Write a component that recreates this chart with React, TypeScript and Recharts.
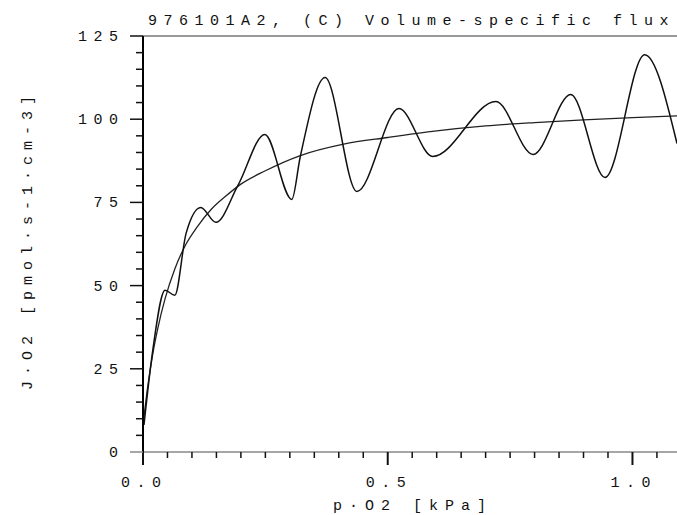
import { LineChart, Line, XAxis, YAxis, ReferenceLine } from "recharts";

// fitted hyperbolic curve
const fitP = [0, 0.01, 0.02, 0.03, 0.045, 0.065, 0.088, 0.11, 0.14, 0.17, 0.2, 0.25, 0.32, 0.41, 0.5, 0.6, 0.7, 0.8, 0.9, 1.0, 1.091];
const fitJ = [8, 20, 29.5, 37, 46, 55, 62.5, 67.5, 73, 77, 80.5, 84.5, 89, 92.5, 94.5, 96.5, 98, 99, 99.8, 100.5, 101];

// measured oscillating flux
const fluxP = [0.002, 0.02, 0.045, 0.065, 0.088, 0.118, 0.149, 0.194, 0.249, 0.304, 0.321, 0.372, 0.437, 0.523, 0.592, 0.721, 0.797, 0.874, 0.944, 1.025, 1.091];
const fluxJ = [8.1, 30.6, 48.6, 47.1, 65.7, 73.5, 69, 80.1, 95.4, 75.9, 88.5, 112.5, 78.3, 103.2, 88.8, 105.3, 89.4, 107.4, 82.5, 119.4, 92.7];

const xTicks = [0, 0.05, 0.1, 0.15, 0.2, 0.25, 0.3, 0.35, 0.4, 0.45, 0.5, 0.55, 0.6, 0.65, 0.7, 0.75, 0.8, 0.85, 0.9, 0.95, 1.0, 1.05];
const xLabelTicks = [0, 0.5, 1.0];
const yTicks = [0, 5, 10, 15, 20, 25, 30, 35, 40, 45, 50, 55, 60, 65, 70, 75, 80, 85, 90, 95, 100, 105, 110, 115, 120, 125];
const yLabelTicks = [0, 25, 50, 75, 100, 125];

const title = "976101A2, (C) Volume-specific flux";
const xTitle = "p·O2 [kPa]";
const yTitle = "J·O2 [pmol·s-1·cm-3]";

const fitData = fitP.map((p, i) => ({ p, j: fitJ[i] }));
const fluxData = fluxP.map((p, i) => ({ p, j: fluxJ[i] }));

const FONT = "'Liberation Mono', 'DejaVu Sans Mono', monospace";
const SP = 6.5;

function XTick({ x, y, payload }: any) {
  const v = payload.value;
  const major = xLabelTicks.some((t) => Math.abs(t - v) < 1e-6);
  return (
    <g>
      <line x1={x} x2={x} y1={y} y2={y + (major ? 13 : 6)} stroke="#111" strokeWidth={major ? 2 : 1.5} />
      {major && (
        <text x={x + SP / 2 - 2} y={y + 35} textAnchor="middle" fontFamily={FONT} fontSize={15} letterSpacing={SP} fill="#111">
          {v.toFixed(1)}
        </text>
      )}
    </g>
  );
}

function YTick({ x, y, payload }: any) {
  const v = payload.value;
  const major = yLabelTicks.includes(v);
  return (
    <g>
      <line x1={x} x2={x - (major ? 13 : 7)} y1={y} y2={y} stroke={v === 0 ? "#888" : "#111"} strokeWidth={1.5} />
      {major && (
        <text x={x - 25 + SP} y={y + 5} textAnchor="end" fontFamily={FONT} fontSize={15} letterSpacing={SP} fill="#111">
          {v}
        </text>
      )}
    </g>
  );
}

export default function App() {
  return (
    <div style={{ position: "absolute", left: 0, top: 0, width: 677, height: 515, background: "#fff" }}>
      <LineChart width={677} height={515} data={fluxData} margin={{ top: 36, right: 0, bottom: 0, left: 0 }}>
        <XAxis
          dataKey="p"
          type="number"
          domain={[0, 1.091]}
          allowDataOverflow
          ticks={xTicks}
          interval={0}
          height={63}
          tickSize={0}
          tickMargin={0}
          tickLine={false}
          tick={<XTick />}
          axisLine={{ stroke: "#888", strokeWidth: 1.5 }}
        />
        <YAxis
          type="number"
          domain={[0, 125]}
          ticks={yTicks}
          interval={0}
          width={143}
          tickSize={0}
          tickMargin={0}
          tickLine={false}
          tick={<YTick />}
          axisLine={{ stroke: "#000", strokeWidth: 2 }}
        />
        <ReferenceLine y={125} stroke="#777" strokeWidth={1.5} />
        <Line data={fitData} dataKey="j" type="monotone" stroke="#222" strokeWidth={1.3} dot={false} isAnimationActive={false} />
        <Line data={fluxData} dataKey="j" type="monotone" stroke="#111" strokeWidth={1.5} dot={false} isAnimationActive={false} />
      </LineChart>
      <svg width={677} height={515} style={{ position: "absolute", left: 0, top: 0, pointerEvents: "none" }}>
        <text x={148} y={25} fontFamily={FONT} fontSize={15} letterSpacing={SP} fill="#111">
          {title}
        </text>
        <text x={333} y={510} fontFamily={FONT} fontSize={15} letterSpacing={7} fill="#111">
          {xTitle}
        </text>
        <text
          x={32}
          y={240}
          transform="rotate(-90 32 240)"
          textAnchor="middle"
          fontFamily={FONT}
          fontSize={15}
          letterSpacing={6}
          fill="#111"
        >
          {yTitle}
        </text>
      </svg>
    </div>
  );
}
